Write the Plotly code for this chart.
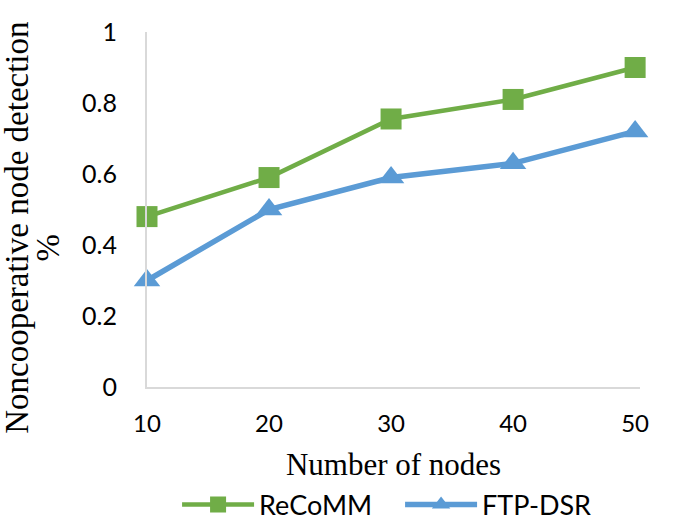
import plotly.graph_objects as go

nodes = [10, 20, 30, 40, 50]
recomm = [0.48, 0.59, 0.755, 0.81, 0.90]
ftp_dsr = [0.30, 0.50, 0.59, 0.63, 0.72]
y_ticks = [0, 0.2, 0.4, 0.6, 0.8, 1]
y_tick_text = ["0", "0.2", "0.4", "0.6", "0.8", "1"]

fig = go.Figure()
fig.add_trace(go.Scatter(
    x=nodes, y=recomm, name="ReCoMM", mode="lines+markers",
    line=dict(color="#70ad47", width=4.5),
    marker=dict(symbol="square", size=21, color="#70ad47"),
    cliponaxis=False,
))
fig.add_trace(go.Scatter(
    x=nodes, y=ftp_dsr, name="FTP-DSR", mode="lines+markers",
    line=dict(color="#5b9bd5", width=5.5),
    marker=dict(symbol="triangle-up", size=23, color="#5b9bd5"),
    cliponaxis=False,
))

title_font = dict(family="Liberation Serif, Times New Roman, serif", size=33, color="#000")

fig.update_layout(
    width=685, height=521,
    margin=dict(l=147, r=45, t=32, b=134, autoexpand=False),
    plot_bgcolor="white", paper_bgcolor="white",
    showlegend=True,
    legend=dict(orientation="h", x=0.061, xanchor="left", y=-0.332, yanchor="middle",
                font=dict(family="Lato, Open Sans, sans-serif", size=27, color="#000"),
                itemwidth=72, entrywidth=136, tracegroupgap=0),
    xaxis=dict(
        range=[10, 50.4], tickvals=nodes, ticktext=[str(n) for n in nodes],
        showgrid=False, zeroline=False, showline=True, linecolor="#d9d9d9", linewidth=2,
        ticks="", ticklabelstandoff=14, automargin=False,
        tickfont=dict(family="Lato, Open Sans, sans-serif", size=24, color="#000"),
        title=dict(text="Number of nodes", font=dict(family="Liberation Serif, Times New Roman, serif", size=31, color="#000"), standoff=18),
    ),
    yaxis=dict(
        range=[0, 1], tickvals=y_ticks, ticktext=y_tick_text,
        showgrid=False, zeroline=False, showline=True, linecolor="#d9d9d9", linewidth=2,
        ticks="", ticklabelstandoff=23, automargin=False,
        tickfont=dict(family="Lato, Open Sans, sans-serif", size=25, color="#000"),
    ),
    annotations=[
        dict(text="Noncooperative node detection", textangle=-90, font=title_font,
             xref="paper", yref="paper", x=-0.264, y=0.448, xanchor="center", yanchor="middle",
             showarrow=False),
        dict(text="%", textangle=-90, font=title_font,
             xref="paper", yref="paper", x=-0.2, y=0.394, xanchor="center", yanchor="middle",
             showarrow=False),
    ],
)

fig.write_html("out.html", config={"displayModeBar": False},
               post_script="document.body.style.margin='0';")
